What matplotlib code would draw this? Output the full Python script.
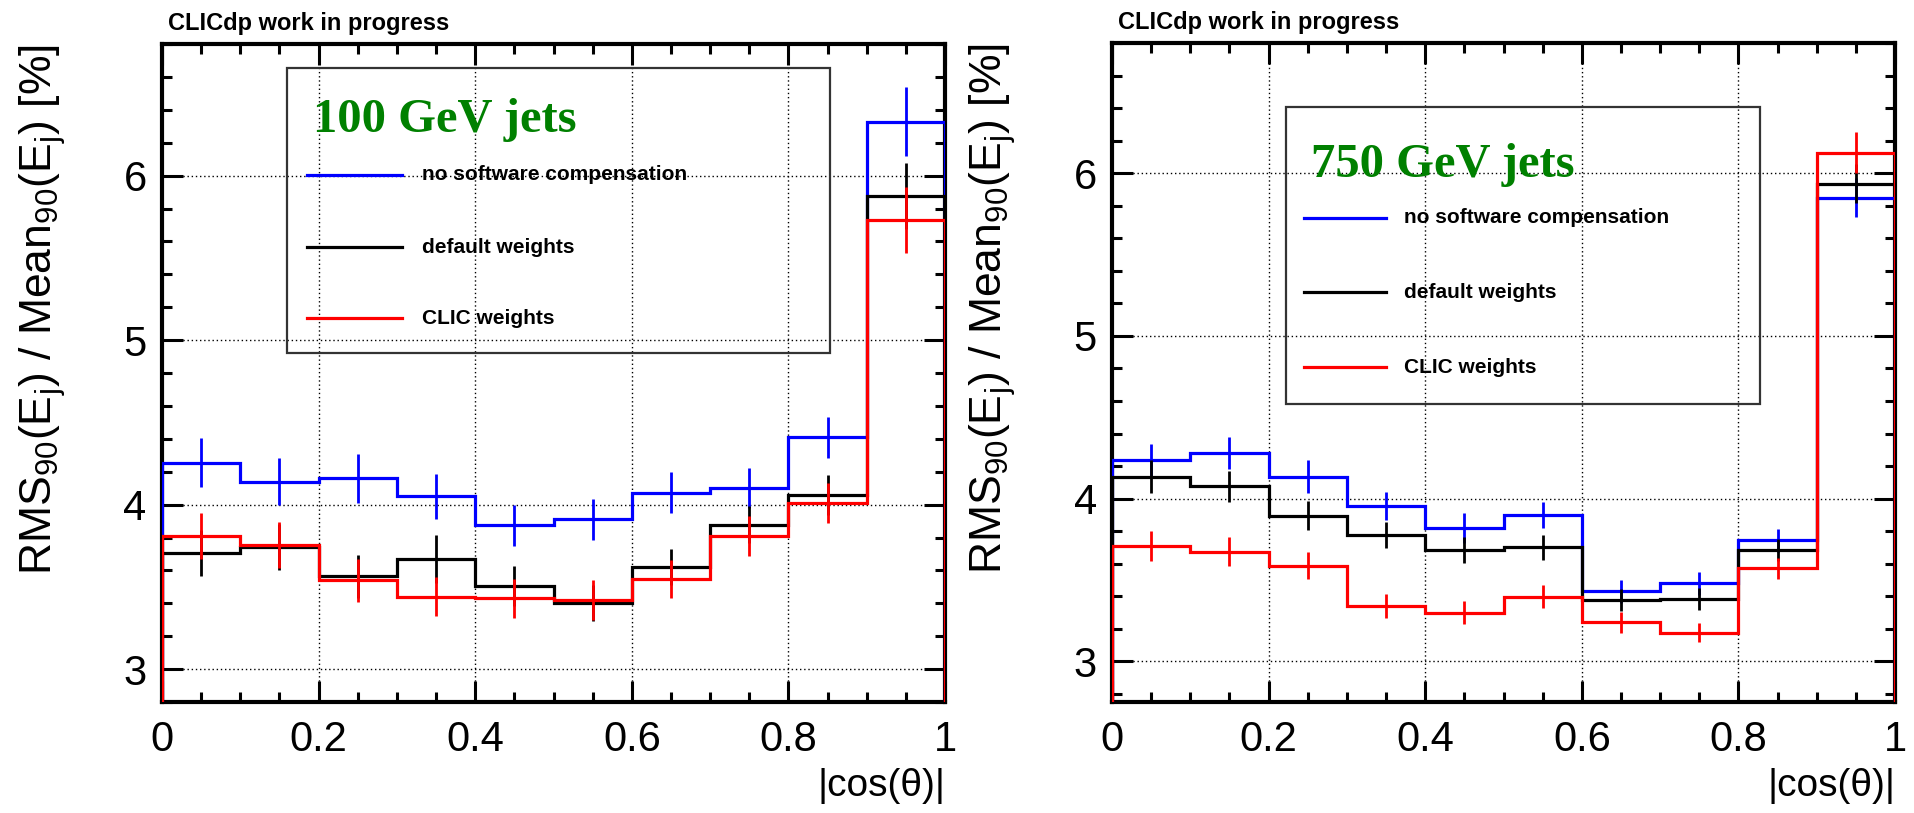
import matplotlib
matplotlib.use('Agg')
import matplotlib.pyplot as plt
from matplotlib.patches import Rectangle
import numpy as np

plt.rcParams['font.family'] = ['Liberation Sans', 'DejaVu Sans']
plt.rcParams['mathtext.default'] = 'regular'

edges = np.linspace(0, 1, 11)
labels = ['no software compensation', 'default weights', 'CLIC weights']
colors = ['#0000ff', '#000000', '#ff0000']

# 100 GeV jets
v100_nosc = [4.256, 4.14, 4.16, 4.05, 3.875, 3.91, 4.073, 4.10, 4.41, 6.327]
e100_nosc = [0.15, 0.145, 0.15, 0.135, 0.125, 0.125, 0.125, 0.12, 0.125, 0.21]
v100_def = [3.704, 3.74, 3.565, 3.67, 3.506, 3.40, 3.623, 3.879, 4.06, 5.875]
e100_def = [0.14, 0.14, 0.13, 0.145, 0.12, 0.11, 0.11, 0.11, 0.12, 0.2]
v100_clic = [3.808, 3.752, 3.54, 3.44, 3.43, 3.42, 3.546, 3.808, 4.01, 5.73]
e100_clic = [0.14, 0.14, 0.13, 0.12, 0.12, 0.12, 0.115, 0.12, 0.12, 0.2]

# 750 GeV jets
v750_nosc = [4.238, 4.28, 4.135, 3.956, 3.82, 3.90, 3.43, 3.48, 3.743, 5.85]
e750_nosc = [0.1, 0.1, 0.1, 0.086, 0.09, 0.08, 0.07, 0.07, 0.07, 0.12]
v750_def = [4.135, 4.076, 3.895, 3.776, 3.686, 3.70, 3.377, 3.383, 3.684, 5.934]
e750_def = [0.1, 0.095, 0.09, 0.08, 0.08, 0.075, 0.07, 0.07, 0.07, 0.12]
v750_clic = [3.708, 3.673, 3.588, 3.34, 3.30, 3.397, 3.24, 3.177, 3.571, 6.127]
e750_clic = [0.09, 0.09, 0.083, 0.075, 0.073, 0.07, 0.064, 0.06, 0.066, 0.125]

fig = plt.figure(figsize=(19.15, 8.13), dpi=100)


def panel(rect, series, errs, ylim, title, box, title_pos, line_x, text_x, entry_y):
    ax = fig.add_axes(rect)
    centers = 0.5 * (edges[:-1] + edges[1:])
    ax.grid(True, color='black', linestyle=(0, (1, 2)), linewidth=1.0, zorder=0)
    for vals, err, c in zip(series, errs, colors):
        ax.stairs(vals, edges, baseline=0, color=c, linewidth=2.3, zorder=3)
        ax.errorbar(centers, vals, yerr=err, fmt='none', ecolor=c,
                    elinewidth=2.0, capsize=0, zorder=3)
    ax.set_xlim(0, 1)
    ax.set_ylim(*ylim)
    ax.set_xticks(np.arange(0, 1.01, 0.2))
    ax.set_xticklabels(['0', '0.2', '0.4', '0.6', '0.8', '1'])
    ax.set_xticks(np.arange(0, 1.001, 0.05), minor=True)
    ax.set_yticks([3, 4, 5, 6])
    ax.set_yticks(np.arange(2.8, 6.81, 0.2), minor=True)
    ax.tick_params(which='both', direction='in', top=True, right=True, width=2.2)
    ax.tick_params(which='major', length=15, labelsize=30, pad=11)
    ax.tick_params(axis='x', which='major', pad=13)
    ax.tick_params(which='minor', length=7)
    for s in ax.spines.values():
        s.set_linewidth(3)
    ax.set_xlabel('|cos(θ)|', fontsize=28, loc='right', labelpad=6)
    ax.set_ylabel('RMS$_{90}$(E$_{j}$) / Mean$_{90}$(E$_{j}$) [%]', fontsize=32,
                  loc='top', labelpad=40)
    ax.text(0.008, 1.021, 'CLICdp work in progress', transform=ax.transAxes,
            fontsize=17, fontweight='bold', ha='left', va='baseline')
    # legend box
    x0, x1, y0, y1 = box
    ax.add_patch(Rectangle((x0, y0), x1 - x0, y1 - y0, transform=ax.transAxes,
                           fill=False, edgecolor='#333333', linewidth=1.6, zorder=4))
    ax.text(title_pos[0], title_pos[1], title, transform=ax.transAxes,
            family=['Liberation Serif', 'DejaVu Serif'], fontweight='bold',
            fontsize=35, color='#008000', ha='left', va='baseline', zorder=5)
    for lab, c, yy in zip(labels, colors, entry_y):
        ax.plot(line_x, [yy, yy], transform=ax.transAxes, color=c,
                linewidth=2.3, zorder=5, clip_on=False)
        ax.text(text_x, yy, lab, transform=ax.transAxes, fontsize=15,
                fontweight='bold', ha='left', va='center', zorder=5)
    return ax


panel([0.0846, 0.1365, 0.4089, 0.8093],
      [v100_nosc, v100_def, v100_clic], [e100_nosc, e100_def, e100_clic],
      (2.827, 6.738), '100 GeV jets',
      (0.1596, 0.853, 0.530, 0.9635), (0.193, 0.866),
      [0.185, 0.3065], 0.332, [0.801, 0.6915, 0.5836])

panel([0.5807, 0.1365, 0.4089, 0.8106],
      [v750_nosc, v750_def, v750_clic], [e750_nosc, e750_def, e750_clic],
      (2.75, 6.40), '750 GeV jets',
      (0.222, 0.8276, 0.452, 0.903), (0.254, 0.797),
      [0.245, 0.350], 0.373, [0.7345, 0.622, 0.508])

fig.savefig('out.png', dpi=100)
